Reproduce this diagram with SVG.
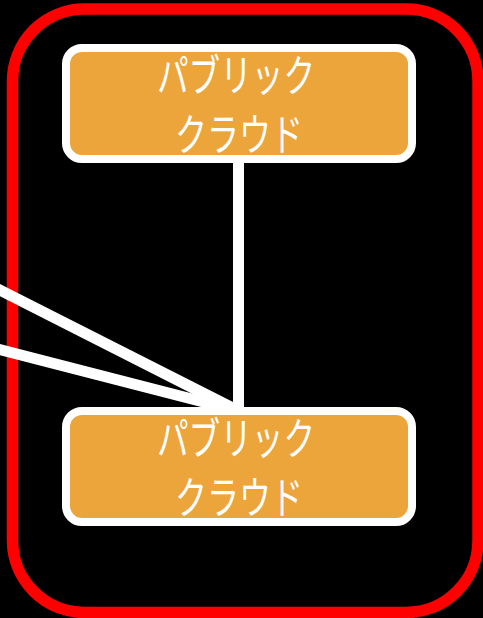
<svg xmlns="http://www.w3.org/2000/svg" width="483" height="618" viewBox="0 0 483 618">
<style>
.box{fill:#ECA53B;stroke:#FFFFFF;stroke-width:8}
.lbl{fill:#FFFFFF;font-family:"Noto Sans CJK JP","Noto Sans",sans-serif;font-size:44px;text-anchor:middle}
.conn{stroke:#FFFFFF;stroke-width:11;fill:none}
</style>
<rect x="0" y="0" width="483" height="618" fill="#000000"/>
<rect id="frame" x="12.5" y="9" width="465.5" height="603.5" rx="72" ry="72" fill="none" stroke="#FF0000" stroke-width="11.5"/>
<g id="connectors">
<line class="conn" x1="238.5" y1="159" x2="238.5" y2="411"/>
<line class="conn" x1="-10" y1="285" x2="238.5" y2="411"/>
<line class="conn" x1="-10" y1="347" x2="238.5" y2="411"/>
</g>
<g id="node-top">
<rect class="box" x="66" y="48" width="346" height="111" rx="16" ry="16"/>
<text class="lbl"><tspan x="236" y="92" textLength="158" lengthAdjust="spacingAndGlyphs">パブリック</tspan><tspan x="239" y="151" textLength="128" lengthAdjust="spacingAndGlyphs">クラウド</tspan></text>
</g>
<g id="node-bottom">
<rect class="box" x="66" y="411" width="346" height="111" rx="16" ry="16"/>
<text class="lbl"><tspan x="236" y="455" textLength="158" lengthAdjust="spacingAndGlyphs">パブリック</tspan><tspan x="239" y="514" textLength="128" lengthAdjust="spacingAndGlyphs">クラウド</tspan></text>
</g>
</svg>
